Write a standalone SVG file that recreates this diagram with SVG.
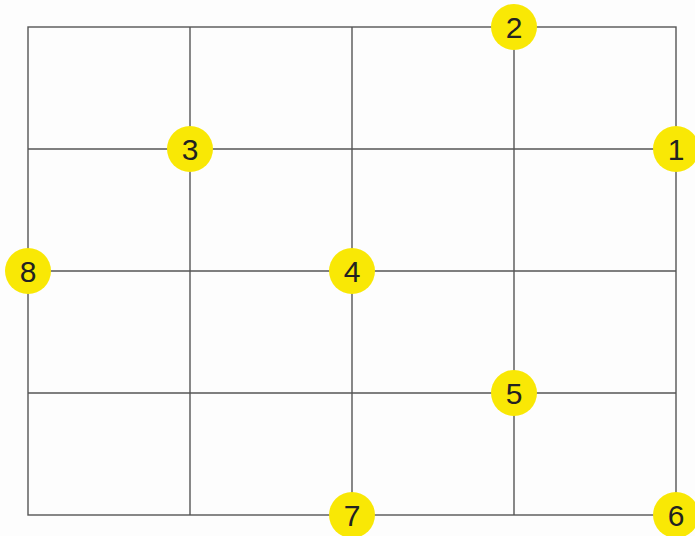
<svg xmlns="http://www.w3.org/2000/svg" width="695" height="536" viewBox="0 0 695 536">
<style>
.g{stroke:#555;stroke-width:1.4;fill:none}
.c{fill:#f9e805}
.t{font-family:"Liberation Sans",Arial,sans-serif;font-size:30px;fill:#222;text-anchor:middle}
</style>
<rect width="695" height="536" fill="#fdfdfd"/>
<g id="connectors">
<rect class="g" x="28" y="27" width="648" height="488"/>
<line class="g" x1="190" y1="27" x2="190" y2="515"/>
<line class="g" x1="352" y1="27" x2="352" y2="515"/>
<line class="g" x1="514" y1="27" x2="514" y2="515"/>
<line class="g" x1="28" y1="149" x2="676" y2="149"/>
<line class="g" x1="28" y1="271" x2="676" y2="271"/>
<line class="g" x1="28" y1="393" x2="676" y2="393"/>
</g>
<g id="n1"><circle class="c" cx="676" cy="149" r="23"/><text class="t" x="676" y="160">1</text></g>
<g id="n2"><circle class="c" cx="514" cy="27" r="23"/><text class="t" x="514" y="38">2</text></g>
<g id="n3"><circle class="c" cx="190" cy="149" r="23"/><text class="t" x="190" y="160">3</text></g>
<g id="n4"><circle class="c" cx="352" cy="271" r="23"/><text class="t" x="352" y="282">4</text></g>
<g id="n5"><circle class="c" cx="514" cy="393" r="23"/><text class="t" x="514" y="404">5</text></g>
<g id="n6"><circle class="c" cx="676" cy="515" r="23"/><text class="t" x="676" y="526">6</text></g>
<g id="n7"><circle class="c" cx="352" cy="515" r="23"/><text class="t" x="352" y="526">7</text></g>
<g id="n8"><circle class="c" cx="28" cy="271" r="23"/><text class="t" x="28" y="282">8</text></g>
</svg>
